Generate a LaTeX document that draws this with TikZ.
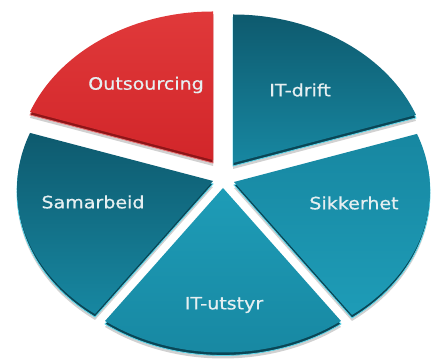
\documentclass[tikz,border=0pt]{standalone}
\usepackage{fontspec}
\setmainfont{DejaVu Sans}
\newfontfamily\labelfont[FakeStretch=1.12, FakeBold=0.6]{DejaVu Sans}
\usetikzlibrary{calc}
\definecolor{TealDark}{HTML}{0E5A6E}
\definecolor{TealMid}{HTML}{1787A1}
\definecolor{TealLight}{HTML}{1E9CB7}
\definecolor{RimTeal}{HTML}{0A4656}
\definecolor{EdgeCyan}{HTML}{5CD6EA}
\definecolor{PieRed}{HTML}{D2262A}
\definecolor{PieRedLight}{HTML}{E0393A}
\definecolor{RimRed}{HTML}{8E1518}
\definecolor{LabelWhite}{HTML}{E6EFF1}

% wedge from the apex to the outer ellipse, between two angles
\newcommand{\wedgepath}[2]{(222,185) -- ([shift={(#1:196 and 156.5)}]222,177)
  arc[start angle=#1, end angle=#2, x radius=196, y radius=156.5] -- cycle}

\begin{document}
\begin{tikzpicture}[x=1pt, y=1pt,
    dropshade/.style={fill=black, opacity=0.18},
    rimface/.style={fill=RimTeal, draw=EdgeCyan, line width=0.8pt},
    topface/.style={shading=axis, shading angle=45},
    lbl/.style={text=LabelWhite, font=\labelfont\fontsize{17}{20}\selectfont}
  ]
  \useasboundingbox (0,0) rectangle (437,363);

  % IT-drift
  \begin{scope}[shift={(11,15)}]
    \fill[dropshade, yshift=-6pt] \wedgepath{21}{90};
    \filldraw[rimface, yshift=-3pt] \wedgepath{21}{90};
    \path[topface, top color=TealDark, bottom color=TealMid] \wedgepath{21}{90};
  \end{scope}
  % Sikkerhet
  \begin{scope}[shift={(12,-4)}]
    \fill[dropshade, yshift=-6pt] \wedgepath{-53}{21};
    \filldraw[rimface, yshift=-3pt] \wedgepath{-53}{21};
    \path[topface, top color=TealMid, bottom color=TealLight] \wedgepath{-53}{21};
  \end{scope}
  % IT-utstyr
  \begin{scope}[shift={(1,-10)}]
    \fill[dropshade, yshift=-6pt] \wedgepath{-127}{-53};
    \filldraw[rimface, yshift=-3pt] \wedgepath{-127}{-53};
    \path[topface, top color=TealLight, bottom color=TealMid] \wedgepath{-127}{-53};
  \end{scope}
  % Samarbeid
  \begin{scope}[shift={(-9,-3)}]
    \fill[dropshade, yshift=-6pt] \wedgepath{159}{233};
    \filldraw[rimface, yshift=-3pt] \wedgepath{159}{233};
    \path[topface, top color=TealDark, bottom color=TealMid] \wedgepath{159}{233};
  \end{scope}
  % Outsourcing, pulled out
  \begin{scope}[shift={(-9,18)}]
    \fill[dropshade, yshift=-6pt] \wedgepath{90}{159};
    \filldraw[rimface, fill=RimRed, draw=PieRedLight!70!white, yshift=-3pt] \wedgepath{90}{159};
    \path[topface, top color=PieRedLight, bottom color=PieRed] \wedgepath{90}{159};
  \end{scope}

  \node[lbl] (outsourcing) at (146,278) {Outsourcing};
  \node[lbl] (itdrift) at (300,273) {IT-drift};
  \node[lbl] (sikkerhet) at (354,160) {Sikkerhet};
  \node[lbl] (itutstyr) at (224,58) {IT-utstyr};
  \node[lbl] (samarbeid) at (93,161) {Samarbeid};
\end{tikzpicture}
\end{document}
